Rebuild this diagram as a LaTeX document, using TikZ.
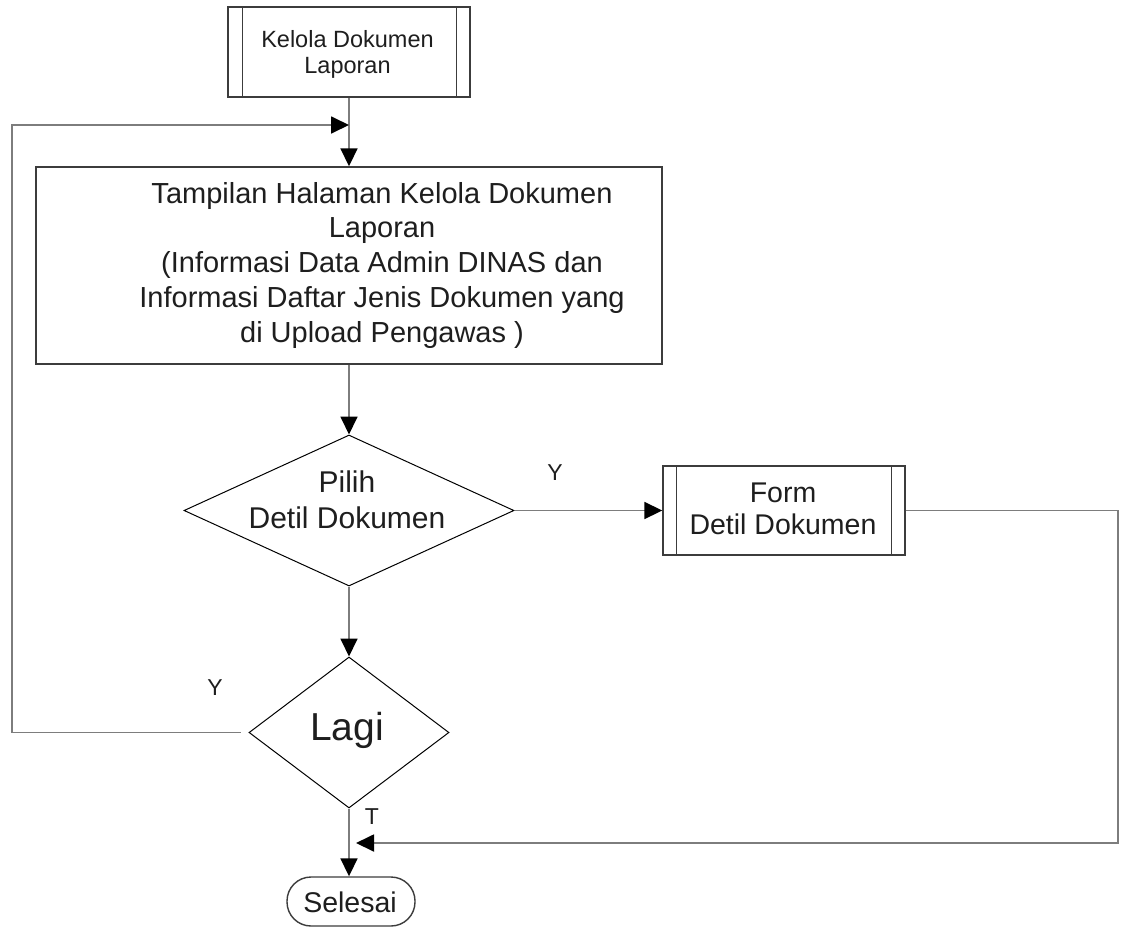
\documentclass[tikz,border=0pt]{standalone}
\usepackage{fontspec}
\setmainfont{Liberation Sans}
\usetikzlibrary{shapes.geometric,arrows.meta}

\definecolor{inkc}{RGB}{30,30,30}
\definecolor{edgec}{RGB}{60,60,60}
\definecolor{wirec}{RGB}{125,125,125}

\tikzset{
  boxshape/.style={draw=edgec, line width=1.4pt, fill=white, inner sep=0pt},
  decshape/.style={diamond, draw=black, line width=1pt, inner sep=0pt},
  endshape/.style={draw=edgec, line width=1.4pt, rounded corners=24pt, inner sep=0pt},
  txt/.style={text=inkc, inner sep=0pt, align=center},
  wire/.style={draw=wirec, line width=1.8pt},
  flow/.style={wire, -{Triangle[length=18pt,width=17pt,color=black]}},
  ylabel/.style={text=inkc, inner sep=0pt, font=\fontsize{23}{26}\selectfont}
}

\begin{document}
\begin{tikzpicture}[x=1pt,y=-1pt]
\useasboundingbox (0,0) rectangle (1121,926);

% start: predefined process
\node[boxshape, minimum width=242pt, minimum height=90pt] (start) at (349,52) {};
\draw[edgec, line width=1.4pt] ([xshift=15pt]start.north west) -- ([xshift=15pt]start.south west);
\draw[edgec, line width=1.4pt] ([xshift=-14pt]start.north east) -- ([xshift=-14pt]start.south east);
\node[txt, font=\fontsize{23.5}{26}\selectfont] (starttxt) at (347.5,54) {Kelola Dokumen\\Laporan};

% main page display
\node[boxshape, minimum width=626pt, minimum height=197pt] (main) at (349,265.5) {};
\node[txt, font=\fontsize{29}{34.75}\selectfont] (maintxt) at (382,265)
  {Tampilan Halaman Kelola Dokumen\\Laporan\\(Informasi Data Admin DINAS dan\\Informasi Daftar Jenis Dokumen yang\\di Upload Pengawas )};

% decision: choose document detail
\node[decshape, minimum width=330pt, minimum height=151pt] (pick) at (349,510.5) {};
\node[txt, font=\fontsize{30}{36}\selectfont] (picktxt) at (347,500) {Pilih\\Detil Dokumen};

% form: document detail
\node[boxshape, minimum width=242pt, minimum height=89pt] (form) at (784,510.5) {};
\draw[edgec, line width=1.4pt] ([xshift=14pt]form.north west) -- ([xshift=14pt]form.south west);
\draw[edgec, line width=1.4pt] ([xshift=-14pt]form.north east) -- ([xshift=-14pt]form.south east);
\node[txt, font=\fontsize{28.5}{32}\selectfont] (formtxt) at (783,509) {Form\\Detil Dokumen};

% decision: again?
\node[decshape, minimum width=200pt, minimum height=151pt] (again) at (349,732.5) {};
\node[txt, font=\fontsize{39}{44}\selectfont, anchor=base] (againtxt) at (347,740) {Lagi};

% terminator
\node[endshape, minimum width=128pt, minimum height=49pt] (stop) at (351,901.5) {};
\node[txt, font=\fontsize{28.5}{32}\selectfont, anchor=base] (stoptxt) at (350,912) {Selesai};

% routing points
\coordinate (loopcorner) at (12,125);
\coordinate (loopjoin) at (349,125);
\coordinate (rightcorner) at (1118,843);
\coordinate (rightjoin) at (356,843);

% connectors
\draw[flow] (start.south) -- (main.north);
\draw[flow] ([xshift=-8pt]again.west) -| (loopcorner) -- (loopjoin);
\draw[flow] (main.south) -- (pick.north);
\draw[flow] (pick.east) -- (form.west);
\draw[flow] (form.east) -| (rightcorner) -- (rightjoin);
\draw[flow] (pick.south) -- (again.north);
\draw[flow] (again.south) -- (again.south |- stop.north);

% branch labels
\node[ylabel] (ypick) at (555,473) {Y};
\node[ylabel] (yagain) at (215,688) {Y};
\node[ylabel] (tagain) at (372,817) {T};
\end{tikzpicture}
\end{document}
